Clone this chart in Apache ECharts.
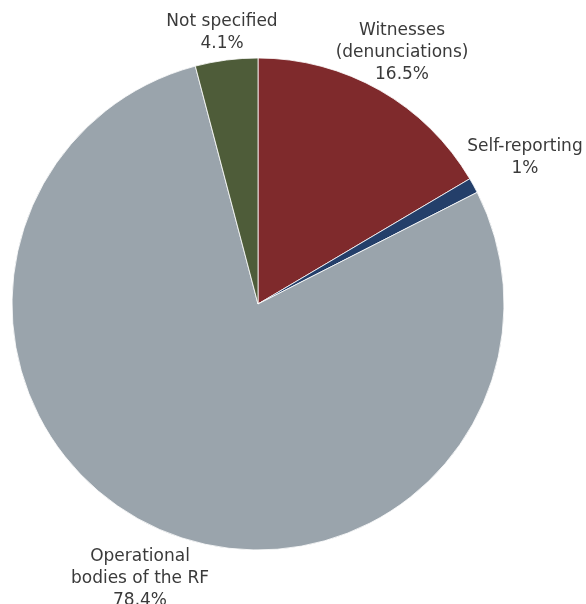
<!DOCTYPE html>
<html>
<head>
<meta charset="utf-8">
<script src="https://cdn.jsdelivr.net/npm/echarts@6/dist/echarts.min.js"></script>
<style>
  html, body { margin: 0; padding: 0; background: #ffffff; }
  #chart { width: 586px; height: 604px; }
</style>
</head>
<body>
<div id="chart"></div>
<script>
// Sources of information, share of cases (%)
const categories = ['Witnesses\n(denunciations)', 'Self-reporting', 'Operational\nbodies of the RF', 'Not specified'];
const shares = [16.5, 1, 78.4, 4.1];
const shareLabels = ['16.5%', '1%', '78.4%', '4.1%'];

const sliceColors = ['#7f2a2c', '#243f6a', '#9aa4ac', '#4e5c39'];
// Centre of each label block on the page
const labelCentres = [[402, 53], [525, 158], [140, 579], [222, 33]];

const chart = echarts.init(document.getElementById('chart'), null, { renderer: 'canvas' });

chart.setOption({
  animation: false,
  backgroundColor: '#ffffff',
  series: [{
    type: 'pie',
    center: [258, 304],
    radius: [0, 246],
    startAngle: 90,
    clockwise: true,
    avoidLabelOverlap: false,
    data: categories.map((name, i) => ({
      name: name,
      value: shares[i],
      itemStyle: { color: sliceColors[i] }
    })),
    itemStyle: { borderColor: '#ffffff', borderWidth: 0.8 },
    label: {
      show: true,
      position: 'outside',
      formatter: p => p.name + '\n' + shareLabels[p.dataIndex],
      fontFamily: 'DejaVu Sans',
      fontSize: 17,
      lineHeight: 22,
      color: '#3a3a3a',
      align: 'center'
    },
    labelLine: { show: false },
    labelLayout: p => ({
      x: labelCentres[p.dataIndex][0],
      y: labelCentres[p.dataIndex][1],
      align: 'center',
      verticalAlign: 'middle'
    }),
    emphasis: { disabled: true }
  }]
});
</script>
</body>
</html>
